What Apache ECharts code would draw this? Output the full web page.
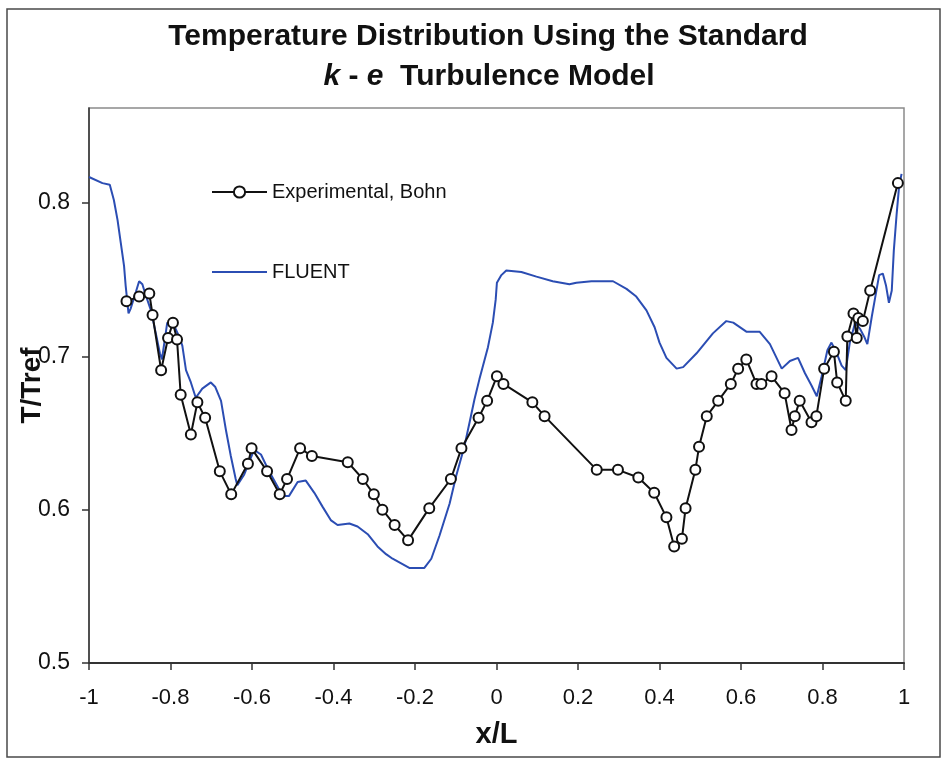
<!DOCTYPE html>
<html>
<head>
<meta charset="utf-8">
<script src="https://cdn.jsdelivr.net/npm/echarts@6/dist/echarts.min.js"></script>
<style>
  html, body { margin: 0; padding: 0; background: #fff; }
  #chart { width: 945px; height: 760px; }
</style>
</head>
<body>
<div id="chart"></div>
<script>
// Measured temperature ratio (Bohn experiment): x/L positions and T/Tref values
const expX = [-0.908, -0.877, -0.852, -0.844, -0.823, -0.806, -0.794, -0.784, -0.775, -0.750,
  -0.734, -0.715, -0.679, -0.651, -0.610, -0.601, -0.563, -0.532, -0.514, -0.482,
  -0.453, -0.365, -0.328, -0.301, -0.280, -0.250, -0.217, -0.165, -0.112, -0.086,
  -0.044, -0.023, 0.001, 0.017, 0.088, 0.118, 0.246, 0.298, 0.348, 0.387,
  0.417, 0.436, 0.455, 0.464, 0.488, 0.497, 0.516, 0.544, 0.575, 0.593,
  0.613, 0.638, 0.650, 0.675, 0.707, 0.724, 0.732, 0.744, 0.773, 0.785,
  0.804, 0.828, 0.836, 0.857, 0.861, 0.876, 0.884, 0.888, 0.899, 0.917, 0.985];
const expT = [0.736, 0.739, 0.741, 0.727, 0.691, 0.712, 0.722, 0.711, 0.675, 0.649,
  0.670, 0.660, 0.625, 0.610, 0.630, 0.640, 0.625, 0.610, 0.620, 0.640,
  0.635, 0.631, 0.620, 0.610, 0.600, 0.590, 0.580, 0.601, 0.620, 0.640,
  0.660, 0.671, 0.687, 0.682, 0.670, 0.661, 0.626, 0.626, 0.621, 0.611,
  0.595, 0.576, 0.581, 0.601, 0.626, 0.641, 0.661, 0.671, 0.682, 0.692,
  0.698, 0.682, 0.682, 0.687, 0.676, 0.652, 0.661, 0.671, 0.657, 0.661,
  0.692, 0.703, 0.683, 0.671, 0.713, 0.728, 0.712, 0.725, 0.723, 0.743, 0.813];

// FLUENT standard k-e prediction
const cfdX = [-1.000, -0.967, -0.949, -0.939, -0.930, -0.922, -0.914, -0.910, -0.903, -0.898,
  -0.885, -0.877, -0.869, -0.861, -0.848, -0.836, -0.826, -0.821, -0.808, -0.791,
  -0.779, -0.771, -0.762, -0.750, -0.738, -0.722, -0.701, -0.690, -0.676, -0.664,
  -0.652, -0.640, -0.636, -0.619, -0.595, -0.578, -0.558, -0.537, -0.525, -0.509,
  -0.488, -0.468, -0.447, -0.427, -0.406, -0.390, -0.361, -0.341, -0.316, -0.292,
  -0.271, -0.255, -0.214, -0.177, -0.160, -0.140, -0.115, -0.099, -0.079, -0.066,
  -0.054, -0.042, -0.021, -0.009, -0.002, 0.001, 0.012, 0.024, 0.061, 0.098,
  0.138, 0.179, 0.196, 0.233, 0.286, 0.319, 0.343, 0.368, 0.388, 0.400,
  0.417, 0.442, 0.458, 0.491, 0.531, 0.564, 0.581, 0.614, 0.646, 0.671,
  0.700, 0.720, 0.740, 0.757, 0.773, 0.786, 0.798, 0.812, 0.822, 0.835,
  0.847, 0.857, 0.867, 0.880, 0.892, 0.902, 0.910, 0.921, 0.929, 0.939,
  0.948, 0.956, 0.963, 0.970, 0.975, 0.982, 0.988, 0.994];
const cfdT = [0.817, 0.813, 0.812, 0.802, 0.789, 0.774, 0.759, 0.746, 0.728, 0.731,
  0.742, 0.749, 0.747, 0.740, 0.730, 0.715, 0.702, 0.698, 0.722, 0.720,
  0.713, 0.707, 0.691, 0.683, 0.673, 0.679, 0.683, 0.680, 0.671, 0.652,
  0.635, 0.620, 0.616, 0.623, 0.639, 0.636, 0.625, 0.615, 0.609, 0.609,
  0.618, 0.619, 0.611, 0.602, 0.593, 0.590, 0.591, 0.589, 0.584, 0.576,
  0.571, 0.568, 0.562, 0.562, 0.568, 0.583, 0.604, 0.622, 0.641, 0.657,
  0.672, 0.685, 0.706, 0.722, 0.737, 0.748, 0.753, 0.756, 0.755, 0.752,
  0.749, 0.747, 0.748, 0.749, 0.749, 0.744, 0.739, 0.730, 0.719, 0.709,
  0.699, 0.692, 0.693, 0.702, 0.715, 0.723, 0.722, 0.716, 0.716, 0.708,
  0.692, 0.697, 0.699, 0.689, 0.681, 0.674, 0.687, 0.704, 0.709, 0.702,
  0.694, 0.691, 0.709, 0.722, 0.718, 0.713, 0.708, 0.726, 0.738, 0.753,
  0.754, 0.746, 0.735, 0.743, 0.769, 0.793, 0.811, 0.819];

// Axis ticks
const xTicks = [-1, -0.8, -0.6, -0.4, -0.2, 0, 0.2, 0.4, 0.6, 0.8, 1];
const yTicks = [0.5, 0.6, 0.7, 0.8];

const FONT = '"Liberation Sans", Arial, sans-serif';
const zip = (xs, ys) => xs.map((x, i) => [x, ys[i]]);

const chart = echarts.init(document.getElementById('chart'), null, { renderer: 'canvas' });

chart.setOption({
  backgroundColor: '#ffffff',
  animation: false,
  title: [{
    text: 'Temperature Distribution Using the Standard',
    left: 483, top: 17, textAlign: 'center',
    textStyle: { fontFamily: FONT, fontWeight: 'bold', fontSize: 30, color: '#111' }
  }, {
    text: '{i|k} - {i|e}  Turbulence Model',
    left: 484, top: 57, textAlign: 'center',
    textStyle: {
      fontFamily: FONT, fontWeight: 'bold', fontSize: 30, color: '#111',
      rich: { i: { fontFamily: FONT, fontWeight: 'bold', fontStyle: 'italic', fontSize: 30, color: '#111' } }
    }
  }],
  legend: {
    orient: 'vertical',
    left: 206, top: 177,
    itemWidth: 55, itemHeight: 14, itemGap: 60,
    data: [
      { name: 'Experimental, Bohn' },
      { name: 'FLUENT', itemStyle: { opacity: 0 } }
    ],
    textStyle: { fontFamily: FONT, fontSize: 20, color: '#111' }
  },
  grid: {
    left: 89, right: 41, top: 108, bottom: 97,
    containLabel: false,
    outerBoundsMode: 'none',
    show: true, borderColor: '#8a8a8a', borderWidth: 1.5, backgroundColor: '#fff'
  },
  xAxis: {
    type: 'value', min: -1, max: 1, interval: 0.2,
    name: 'x/L', nameLocation: 'middle', nameGap: 57, nameMoveOverlap: false,
    nameTextStyle: { fontFamily: FONT, fontWeight: 'bold', fontSize: 29, color: '#111' },
    axisLine: { show: true, onZero: false, lineStyle: { color: '#333', width: 2 } },
    axisTick: { show: true, inside: false, length: 7, customValues: xTicks, lineStyle: { color: '#333', width: 1.5 } },
    axisLabel: { margin: 24, customValues: xTicks, fontFamily: FONT, fontSize: 22, color: '#111' },
    splitLine: { show: false }
  },
  yAxis: {
    type: 'value', min: 0.5, max: 0.862,
    name: 'T/Tref', nameLocation: 'middle', nameGap: 43, nameMoveOverlap: false,
    nameTextStyle: { fontFamily: FONT, fontWeight: 'bold', fontSize: 28, color: '#111' },
    axisLine: { show: true, onZero: false, lineStyle: { color: '#333', width: 1.5 } },
    axisTick: { show: true, inside: false, length: 7, customValues: yTicks, lineStyle: { color: '#333', width: 1.5 } },
    axisLabel: { margin: 19, customValues: yTicks, fontFamily: FONT, fontSize: 23, color: '#111',
      formatter: v => v.toFixed(1) },
    splitLine: { show: false }
  },
  series: [{
    name: 'FLUENT',
    type: 'line',
    data: zip(cfdX, cfdT),
    showSymbol: false,
    symbol: 'none',
    smooth: false,
    color: '#2b4db3',
    lineStyle: { color: '#2b4db3', width: 2 },
    z: 2
  }, {
    name: 'Experimental, Bohn',
    type: 'line',
    data: zip(expX, expT),
    symbol: 'emptyCircle',
    symbolSize: 10,
    color: '#111',
    lineStyle: { color: '#111', width: 2 },
    itemStyle: { color: '#111', borderColor: '#111', borderWidth: 2 },
    z: 3
  }],
  graphic: [{
    type: 'rect',
    shape: { x: 7, y: 9, width: 933, height: 748 },
    style: { fill: null, stroke: '#4a4a4a', lineWidth: 1.5 },
    silent: true
  }]
});
</script>
</body>
</html>
